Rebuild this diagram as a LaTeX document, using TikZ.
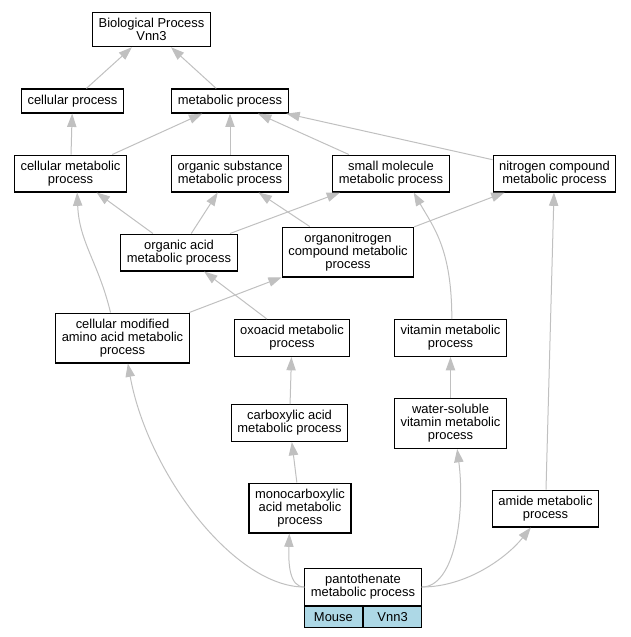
\documentclass[tikz,border=0pt]{standalone}
\usepackage{fontspec}
\setmainfont{Liberation Sans}
\usepackage{xcolor}
\usetikzlibrary{arrows.meta}
\definecolor{edgegray}{RGB}{192,192,192}
\definecolor{cellblue}{RGB}{173,216,230}

\begin{document}
\begin{tikzpicture}[x=0.75pt,y=-0.75pt,font=\fontsize{9.7}{9.75}\selectfont,
  term/.style={draw,line width=0.9pt,fill=white,align=center,inner xsep=4.5pt,inner ysep=4.4pt,minimum height=18pt},
  cell/.style={draw,line width=0.9pt,fill=cellblue,minimum width=43.5pt,minimum height=15.75pt,inner sep=0pt},
  isa/.style={draw=edgegray,line width=0.75pt,-{Triangle[length=10pt,width=7pt]}}]
  \useasboundingbox (0,0) rectangle (631,637);
  \node[term] (bp) at (151.5,29.5) {Biological Process\\Vnn3};
  \node[term] (cellp) at (72.5,101) {cellular process};
  \node[term] (metp) at (230,101) {metabolic process};
  \node[term] (cellmet) at (70.5,173.5) {cellular metabolic\\process};
  \node[term] (orgsub) at (230,173.5) {organic substance\\metabolic process};
  \node[term] (smallmol) at (391,173.5) {small molecule\\metabolic process};
  \node[term] (nitro) at (554.5,173.5) {nitrogen compound\\metabolic process};
  \node[term] (orgacid) at (179,252.5) {organic acid\\metabolic process};
  \node[term] (orgnit) at (348,252) {organonitrogen\\compound metabolic\\process};
  \node[term] (cellmod) at (122.5,338) {cellular modified\\amino acid metabolic\\process};
  \node[term] (oxo) at (292,338) {oxoacid metabolic\\process};
  \node[term] (vit) at (450.5,338) {vitamin metabolic\\process};
  \node[term] (carb) at (289.5,423) {carboxylic acid\\metabolic process};
  \node[term] (wsv) at (450.5,423.5) {water-soluble\\vitamin metabolic\\process};
  \node[term] (mono) at (300,508) {monocarboxylic\\acid metabolic\\process};
  \node[term] (amide) at (545.5,508.5) {amide metabolic\\process};
  \node[term,minimum width=87pt,minimum height=27pt] (panto) at (363,587) {pantothenate\\metabolic process};
  \node[cell,anchor=north east] (mouse) at (panto.south) {Mouse};
  \node[cell,anchor=north west] (vnn) at (panto.south) {Vnn3};
  \foreach \a/\b in {cellp/bp,metp/bp,cellmet/cellp,cellmet/metp,orgsub/metp,smallmol/metp,nitro/metp,
    orgacid/cellmet,orgacid/orgsub,orgacid/smallmol,orgnit/orgsub,orgnit/nitro,cellmod/orgnit,
    oxo/orgacid,carb/oxo,wsv/vit,mono/carb,amide/nitro}
    \draw[isa] (\a) -- (\b);
  \draw[isa] ([xshift=-9pt]cellmod.north) .. controls +(-12,-50) and +(2,50) .. ([xshift=5pt]cellmet.south);
  \draw[isa] ([xshift=1pt]vit.north) .. controls +(0,-70) and +(20,35) .. ([xshift=17pt]smallmol.south);
  \draw[isa] (panto.west) .. controls +(-70,0) and +(20,110) .. ([xshift=4pt]cellmod.south);
  \draw[isa] (panto.west) .. controls +(-15,0) and +(-1,30) .. ([xshift=-8pt]mono.south);
  \draw[isa] (panto.east) .. controls +(34,0) and +(8,62) .. ([xshift=5pt]wsv.south);
  \draw[isa] (panto.east) .. controls +(45,0) and +(-24,30) .. ([xshift=-11pt]amide.south);
\end{tikzpicture}
\end{document}
